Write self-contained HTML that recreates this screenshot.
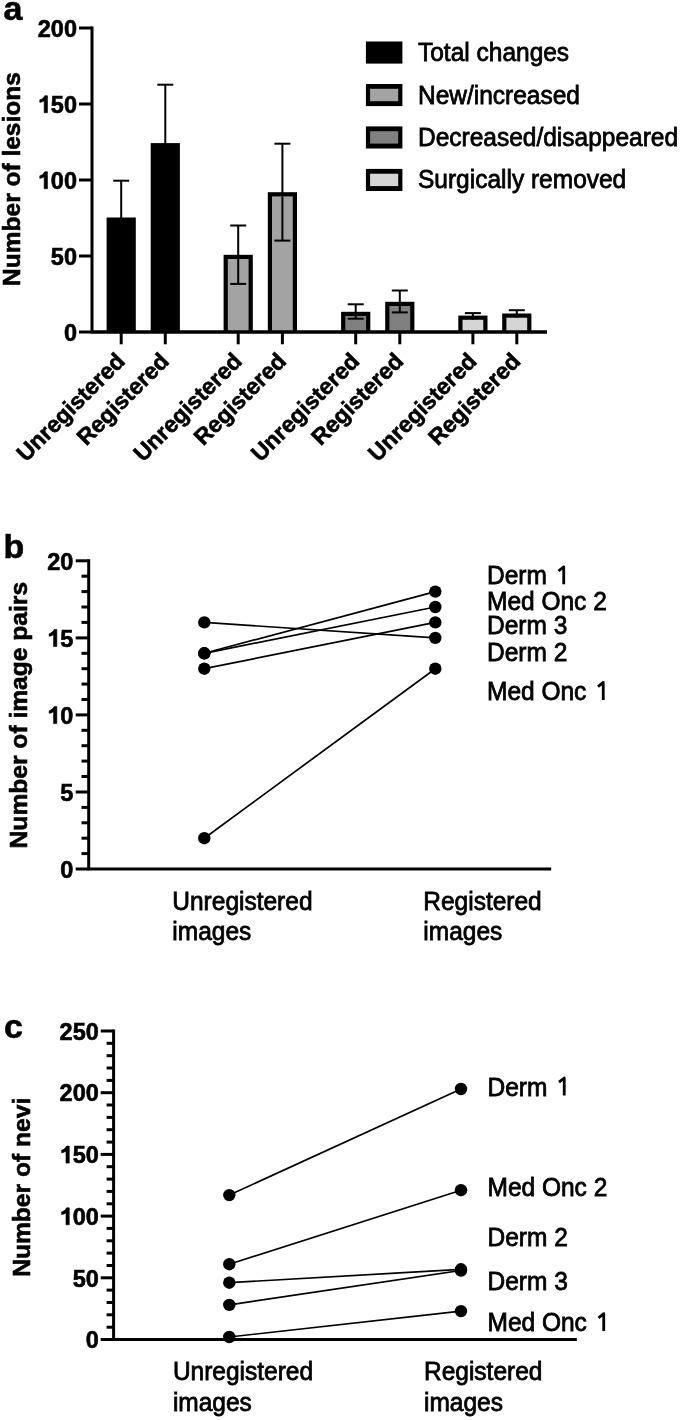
<!DOCTYPE html><html><head><meta charset="utf-8"><style>html,body{margin:0;padding:0;background:#fff;}svg{display:block}svg{will-change:transform}text{font-family:"Liberation Sans", sans-serif;fill:#000;stroke:#000;stroke-width:0.75px}.b{font-weight:bold;stroke-width:0.6px}</style></head><body>
<svg width="680" height="1420" viewBox="0 0 680 1420">
<text class="b" x="3.5" y="20" font-size="34">a</text>
<path d="M92.0,26.5 V332.0 H547" fill="none" stroke="#000" stroke-width="3"/>
<line x1="79" y1="332.0" x2="92.0" y2="332.0" stroke="#000" stroke-width="3"/>
<text class="b" x="77" y="340.7" font-size="23.5" text-anchor="end">0</text>
<line x1="79" y1="256.0" x2="92.0" y2="256.0" stroke="#000" stroke-width="3"/>
<text class="b" x="77" y="264.7" font-size="23.5" text-anchor="end">50</text>
<line x1="79" y1="180.0" x2="92.0" y2="180.0" stroke="#000" stroke-width="3"/>
<path d="M47.47,188.70 L47.47,171.71 L44.79,171.71 C43.95,173.66 42.02,175.07 39.79,175.82 L39.79,178.41 C41.32,178.24 42.96,177.66 44.18,176.83 L44.18,188.70 Z" fill="#000" stroke="#000" stroke-width="0.6"/><text class="b" x="77" y="188.7" font-size="23.5" text-anchor="end">00</text>
<line x1="79" y1="104.0" x2="92.0" y2="104.0" stroke="#000" stroke-width="3"/>
<path d="M47.47,112.70 L47.47,95.71 L44.79,95.71 C43.95,97.66 42.02,99.07 39.79,99.82 L39.79,102.41 C41.32,102.24 42.96,101.66 44.18,100.83 L44.18,112.70 Z" fill="#000" stroke="#000" stroke-width="0.6"/><text class="b" x="77" y="112.7" font-size="23.5" text-anchor="end">50</text>
<line x1="79" y1="28.0" x2="92.0" y2="28.0" stroke="#000" stroke-width="3"/>
<text class="b" x="77" y="36.7" font-size="23.5" text-anchor="end">200</text>
<text class="b" font-size="24.5" transform="translate(19.8,285.9) rotate(-90)">Number of lesions</text>
<line x1="121.2" y1="180.7" x2="121.2" y2="220.5" stroke="#000" stroke-width="2"/>
<line x1="113.2" y1="180.7" x2="129.2" y2="180.7" stroke="#000" stroke-width="2"/>
<rect x="106.60000000000001" y="217.5" width="29.2" height="114.5" fill="#000"/>
<line x1="121.2" y1="332.0" x2="121.2" y2="344.3" stroke="#000" stroke-width="3"/>
<text class="b" font-size="23" text-anchor="end" transform="translate(126.2,362.5) rotate(-45)">Unregistered</text>
<line x1="165.3" y1="84.7" x2="165.3" y2="146.1" stroke="#000" stroke-width="2"/>
<line x1="157.3" y1="84.7" x2="173.3" y2="84.7" stroke="#000" stroke-width="2"/>
<rect x="150.70000000000002" y="143.1" width="29.2" height="188.9" fill="#000"/>
<line x1="165.3" y1="332.0" x2="165.3" y2="344.3" stroke="#000" stroke-width="3"/>
<text class="b" font-size="23" text-anchor="end" transform="translate(170.3,362.5) rotate(-45)">Registered</text>
<line x1="238.2" y1="225.5" x2="238.2" y2="283.9" stroke="#000" stroke-width="2"/>
<line x1="230.2" y1="225.5" x2="246.2" y2="225.5" stroke="#000" stroke-width="2"/>
<rect x="223.6" y="254.8" width="29.2" height="77.19999999999999" fill="#000"/>
<rect x="227.79999999999998" y="259.0" width="20.799999999999997" height="71.49999999999999" fill="#a3a3a3"/>
<line x1="238.2" y1="259.0" x2="238.2" y2="283.9" stroke="#000" stroke-width="2"/>
<line x1="230.2" y1="283.9" x2="246.2" y2="283.9" stroke="#000" stroke-width="2"/>
<line x1="238.2" y1="332.0" x2="238.2" y2="344.3" stroke="#000" stroke-width="3"/>
<text class="b" font-size="23" text-anchor="end" transform="translate(243.2,362.5) rotate(-45)">Unregistered</text>
<line x1="282.4" y1="143.7" x2="282.4" y2="240.6" stroke="#000" stroke-width="2"/>
<line x1="274.4" y1="143.7" x2="290.4" y2="143.7" stroke="#000" stroke-width="2"/>
<rect x="267.79999999999995" y="192.2" width="29.2" height="139.8" fill="#000"/>
<rect x="271.99999999999994" y="196.39999999999998" width="20.799999999999997" height="134.10000000000002" fill="#a3a3a3"/>
<line x1="282.4" y1="196.39999999999998" x2="282.4" y2="240.6" stroke="#000" stroke-width="2"/>
<line x1="274.4" y1="240.6" x2="290.4" y2="240.6" stroke="#000" stroke-width="2"/>
<line x1="282.4" y1="332.0" x2="282.4" y2="344.3" stroke="#000" stroke-width="3"/>
<text class="b" font-size="23" text-anchor="end" transform="translate(287.4,362.5) rotate(-45)">Registered</text>
<line x1="355.7" y1="304.3" x2="355.7" y2="318.7" stroke="#000" stroke-width="2"/>
<line x1="347.7" y1="304.3" x2="363.7" y2="304.3" stroke="#000" stroke-width="2"/>
<rect x="341.09999999999997" y="311.8" width="29.2" height="20.19999999999999" fill="#000"/>
<rect x="345.29999999999995" y="316.0" width="20.799999999999997" height="14.49999999999999" fill="#808080"/>
<line x1="355.7" y1="316.0" x2="355.7" y2="318.7" stroke="#000" stroke-width="2"/>
<line x1="347.7" y1="318.7" x2="363.7" y2="318.7" stroke="#000" stroke-width="2"/>
<line x1="355.7" y1="332.0" x2="355.7" y2="344.3" stroke="#000" stroke-width="3"/>
<text class="b" font-size="23" text-anchor="end" transform="translate(360.7,362.5) rotate(-45)">Unregistered</text>
<line x1="399.8" y1="290.5" x2="399.8" y2="312.4" stroke="#000" stroke-width="2"/>
<line x1="391.8" y1="290.5" x2="407.8" y2="290.5" stroke="#000" stroke-width="2"/>
<rect x="385.2" y="301.8" width="29.2" height="30.19999999999999" fill="#000"/>
<rect x="389.4" y="306.0" width="20.799999999999997" height="24.49999999999999" fill="#808080"/>
<line x1="399.8" y1="306.0" x2="399.8" y2="312.4" stroke="#000" stroke-width="2"/>
<line x1="391.8" y1="312.4" x2="407.8" y2="312.4" stroke="#000" stroke-width="2"/>
<line x1="399.8" y1="332.0" x2="399.8" y2="344.3" stroke="#000" stroke-width="3"/>
<text class="b" font-size="23" text-anchor="end" transform="translate(404.8,362.5) rotate(-45)">Registered</text>
<line x1="472.9" y1="313.1" x2="472.9" y2="318.6" stroke="#000" stroke-width="2"/>
<line x1="464.9" y1="313.1" x2="480.9" y2="313.1" stroke="#000" stroke-width="2"/>
<rect x="458.29999999999995" y="315.6" width="29.2" height="16.399999999999977" fill="#000"/>
<rect x="462.49999999999994" y="319.8" width="20.799999999999997" height="10.699999999999978" fill="#d5d5d5"/>
<line x1="472.9" y1="319.8" x2="472.9" y2="318.6" stroke="#000" stroke-width="2"/>
<line x1="472.9" y1="332.0" x2="472.9" y2="344.3" stroke="#000" stroke-width="3"/>
<text class="b" font-size="23" text-anchor="end" transform="translate(477.9,362.5) rotate(-45)">Unregistered</text>
<line x1="516.8" y1="310.2" x2="516.8" y2="316.5" stroke="#000" stroke-width="2"/>
<line x1="508.79999999999995" y1="310.2" x2="524.8" y2="310.2" stroke="#000" stroke-width="2"/>
<rect x="502.19999999999993" y="313.5" width="29.2" height="18.5" fill="#000"/>
<rect x="506.3999999999999" y="317.7" width="20.799999999999997" height="12.8" fill="#d5d5d5"/>
<line x1="516.8" y1="317.7" x2="516.8" y2="316.5" stroke="#000" stroke-width="2"/>
<line x1="516.8" y1="332.0" x2="516.8" y2="344.3" stroke="#000" stroke-width="3"/>
<text class="b" font-size="23" text-anchor="end" transform="translate(521.8,362.5) rotate(-45)">Registered</text>
<line x1="92.0" y1="332.0" x2="547" y2="332.0" stroke="#000" stroke-width="3"/>
<rect x="365.9" y="41.5" width="36.5" height="22.1" fill="#000"/>
<text transform="translate(418,61.3) scale(1,1.06)" font-size="24.5">Total changes</text>
<rect x="365.9" y="84.0" width="36.5" height="22.1" fill="#000"/>
<rect x="370.09999999999997" y="88.8" width="28.1" height="12.4" fill="#a3a3a3"/>
<text transform="translate(418,103.6) scale(1,1.06)" font-size="24.5">New/increased</text>
<rect x="365.9" y="126.4" width="36.5" height="22.1" fill="#000"/>
<rect x="370.09999999999997" y="131.2" width="28.1" height="12.4" fill="#808080"/>
<text transform="translate(418,146.0) scale(1,1.06)" font-size="24.5">Decreased/disappeared</text>
<rect x="365.9" y="168.9" width="36.5" height="22.1" fill="#000"/>
<rect x="370.09999999999997" y="173.7" width="28.1" height="12.4" fill="#d5d5d5"/>
<text transform="translate(418,188.3) scale(1,1.06)" font-size="24.5">Surgically removed</text>
<text class="b" x="3.5" y="558" font-size="34">b</text>
<path d="M88.7,559.3 V869.0 H551.2" fill="none" stroke="#000" stroke-width="3"/>
<line x1="75.7" y1="869.0" x2="88.7" y2="869.0" stroke="#000" stroke-width="3"/>
<text class="b" x="73.3" y="877.7" font-size="23.5" text-anchor="end">0</text>
<line x1="81.5" y1="853.6" x2="88.7" y2="853.6" stroke="#000" stroke-width="3"/>
<line x1="81.5" y1="838.2" x2="88.7" y2="838.2" stroke="#000" stroke-width="3"/>
<line x1="81.5" y1="822.8" x2="88.7" y2="822.8" stroke="#000" stroke-width="3"/>
<line x1="81.5" y1="807.4" x2="88.7" y2="807.4" stroke="#000" stroke-width="3"/>
<line x1="75.7" y1="792.0" x2="88.7" y2="792.0" stroke="#000" stroke-width="3"/>
<text class="b" x="73.3" y="800.7" font-size="23.5" text-anchor="end">5</text>
<line x1="81.5" y1="776.5" x2="88.7" y2="776.5" stroke="#000" stroke-width="3"/>
<line x1="81.5" y1="761.1" x2="88.7" y2="761.1" stroke="#000" stroke-width="3"/>
<line x1="81.5" y1="745.7" x2="88.7" y2="745.7" stroke="#000" stroke-width="3"/>
<line x1="81.5" y1="730.3" x2="88.7" y2="730.3" stroke="#000" stroke-width="3"/>
<line x1="75.7" y1="714.9" x2="88.7" y2="714.9" stroke="#000" stroke-width="3"/>
<path d="M56.84,723.60 L56.84,706.61 L54.16,706.61 C53.32,708.56 51.39,709.97 49.16,710.72 L49.16,713.31 C50.69,713.14 52.33,712.56 53.55,711.73 L53.55,723.60 Z" fill="#000" stroke="#000" stroke-width="0.6"/><text class="b" x="73.3" y="723.6" font-size="23.5" text-anchor="end">0</text>
<line x1="81.5" y1="699.5" x2="88.7" y2="699.5" stroke="#000" stroke-width="3"/>
<line x1="81.5" y1="684.1" x2="88.7" y2="684.1" stroke="#000" stroke-width="3"/>
<line x1="81.5" y1="668.7" x2="88.7" y2="668.7" stroke="#000" stroke-width="3"/>
<line x1="81.5" y1="653.3" x2="88.7" y2="653.3" stroke="#000" stroke-width="3"/>
<line x1="75.7" y1="637.9" x2="88.7" y2="637.9" stroke="#000" stroke-width="3"/>
<path d="M56.84,646.55 L56.84,629.56 L54.16,629.56 C53.32,631.51 51.39,632.92 49.16,633.67 L49.16,636.26 C50.69,636.09 52.33,635.51 53.55,634.68 L53.55,646.55 Z" fill="#000" stroke="#000" stroke-width="0.6"/><text class="b" x="73.3" y="646.6" font-size="23.5" text-anchor="end">5</text>
<line x1="81.5" y1="622.4" x2="88.7" y2="622.4" stroke="#000" stroke-width="3"/>
<line x1="81.5" y1="607.0" x2="88.7" y2="607.0" stroke="#000" stroke-width="3"/>
<line x1="81.5" y1="591.6" x2="88.7" y2="591.6" stroke="#000" stroke-width="3"/>
<line x1="81.5" y1="576.2" x2="88.7" y2="576.2" stroke="#000" stroke-width="3"/>
<line x1="75.7" y1="560.8" x2="88.7" y2="560.8" stroke="#000" stroke-width="3"/>
<text class="b" x="73.3" y="569.5" font-size="23.5" text-anchor="end">20</text>
<text class="b" font-size="24.6" transform="translate(26.5,848.4) rotate(-90)">Number of image pairs</text>
<line x1="204.3" y1="622.4" x2="435.3" y2="637.9" stroke="#000" stroke-width="1.7"/>
<line x1="204.3" y1="653.3" x2="435.3" y2="591.6" stroke="#000" stroke-width="1.7"/>
<line x1="204.3" y1="653.3" x2="435.3" y2="607.0" stroke="#000" stroke-width="1.7"/>
<line x1="204.3" y1="668.7" x2="435.3" y2="622.4" stroke="#000" stroke-width="1.7"/>
<line x1="204.3" y1="838.2" x2="435.3" y2="668.7" stroke="#000" stroke-width="1.7"/>
<circle cx="204.3" cy="622.4" r="6.2"/>
<circle cx="435.3" cy="637.9" r="6.2"/>
<circle cx="204.3" cy="653.3" r="6.2"/>
<circle cx="435.3" cy="591.6" r="6.2"/>
<circle cx="204.3" cy="653.3" r="6.2"/>
<circle cx="435.3" cy="607.0" r="6.2"/>
<circle cx="204.3" cy="668.7" r="6.2"/>
<circle cx="435.3" cy="622.4" r="6.2"/>
<circle cx="204.3" cy="838.2" r="6.2"/>
<circle cx="435.3" cy="668.7" r="6.2"/>
<text transform="translate(487,584.3) scale(1,1.06)" font-size="24.5">Derm </text><path d="M563.74,584.30 V566.80 L558.50,571.00" fill="none" stroke="#000" stroke-width="2.8" stroke-linejoin="round"/>
<text transform="translate(487,610) scale(1,1.06)" font-size="24.5">Med Onc 2</text>
<text transform="translate(487,633.7) scale(1,1.06)" font-size="24.5">Derm 3</text>
<text transform="translate(487,661.3) scale(1,1.06)" font-size="24.5">Derm 2</text>
<text transform="translate(487,699.9) scale(1,1.06)" font-size="24.5">Med Onc </text><path d="M603.25,699.90 V682.40 L598.01,686.60" fill="none" stroke="#000" stroke-width="2.8" stroke-linejoin="round"/>
<text transform="translate(172.3,909.5) scale(1,1.06)" font-size="24.5">Unregistered</text>
<text transform="translate(172.3,939.5) scale(1,1.06)" font-size="24.5">images</text>
<text transform="translate(423.3,909.5) scale(1,1.06)" font-size="24.5">Registered</text>
<text transform="translate(423.3,939.5) scale(1,1.06)" font-size="24.5">images</text>
<text class="b" x="4" y="1037.6" font-size="34">c</text>
<path d="M113.6,1029.5 V1339.5 H576.8" fill="none" stroke="#000" stroke-width="3"/>
<line x1="100.7" y1="1339.5" x2="113.6" y2="1339.5" stroke="#000" stroke-width="3"/>
<text class="b" x="98.8" y="1348.2" font-size="23.5" text-anchor="end">0</text>
<line x1="106.6" y1="1327.2" x2="113.6" y2="1327.2" stroke="#000" stroke-width="3"/>
<line x1="106.6" y1="1314.8" x2="113.6" y2="1314.8" stroke="#000" stroke-width="3"/>
<line x1="106.6" y1="1302.5" x2="113.6" y2="1302.5" stroke="#000" stroke-width="3"/>
<line x1="106.6" y1="1290.1" x2="113.6" y2="1290.1" stroke="#000" stroke-width="3"/>
<line x1="100.7" y1="1277.8" x2="113.6" y2="1277.8" stroke="#000" stroke-width="3"/>
<text class="b" x="98.8" y="1286.5" font-size="23.5" text-anchor="end">50</text>
<line x1="106.6" y1="1265.5" x2="113.6" y2="1265.5" stroke="#000" stroke-width="3"/>
<line x1="106.6" y1="1253.1" x2="113.6" y2="1253.1" stroke="#000" stroke-width="3"/>
<line x1="106.6" y1="1240.8" x2="113.6" y2="1240.8" stroke="#000" stroke-width="3"/>
<line x1="106.6" y1="1228.4" x2="113.6" y2="1228.4" stroke="#000" stroke-width="3"/>
<line x1="100.7" y1="1216.1" x2="113.6" y2="1216.1" stroke="#000" stroke-width="3"/>
<path d="M69.27,1224.80 L69.27,1207.81 L66.59,1207.81 C65.75,1209.76 63.82,1211.17 61.59,1211.92 L61.59,1214.51 C63.12,1214.34 64.76,1213.75 65.98,1212.93 L65.98,1224.80 Z" fill="#000" stroke="#000" stroke-width="0.6"/><text class="b" x="98.8" y="1224.8" font-size="23.5" text-anchor="end">00</text>
<line x1="106.6" y1="1203.8" x2="113.6" y2="1203.8" stroke="#000" stroke-width="3"/>
<line x1="106.6" y1="1191.4" x2="113.6" y2="1191.4" stroke="#000" stroke-width="3"/>
<line x1="106.6" y1="1179.1" x2="113.6" y2="1179.1" stroke="#000" stroke-width="3"/>
<line x1="106.6" y1="1166.7" x2="113.6" y2="1166.7" stroke="#000" stroke-width="3"/>
<line x1="100.7" y1="1154.4" x2="113.6" y2="1154.4" stroke="#000" stroke-width="3"/>
<path d="M69.27,1163.10 L69.27,1146.11 L66.59,1146.11 C65.75,1148.06 63.82,1149.47 61.59,1150.22 L61.59,1152.81 C63.12,1152.64 64.76,1152.06 65.98,1151.23 L65.98,1163.10 Z" fill="#000" stroke="#000" stroke-width="0.6"/><text class="b" x="98.8" y="1163.1" font-size="23.5" text-anchor="end">50</text>
<line x1="106.6" y1="1142.1" x2="113.6" y2="1142.1" stroke="#000" stroke-width="3"/>
<line x1="106.6" y1="1129.7" x2="113.6" y2="1129.7" stroke="#000" stroke-width="3"/>
<line x1="106.6" y1="1117.4" x2="113.6" y2="1117.4" stroke="#000" stroke-width="3"/>
<line x1="106.6" y1="1105.0" x2="113.6" y2="1105.0" stroke="#000" stroke-width="3"/>
<line x1="100.7" y1="1092.7" x2="113.6" y2="1092.7" stroke="#000" stroke-width="3"/>
<text class="b" x="98.8" y="1101.4" font-size="23.5" text-anchor="end">200</text>
<line x1="106.6" y1="1080.4" x2="113.6" y2="1080.4" stroke="#000" stroke-width="3"/>
<line x1="106.6" y1="1068.0" x2="113.6" y2="1068.0" stroke="#000" stroke-width="3"/>
<line x1="106.6" y1="1055.7" x2="113.6" y2="1055.7" stroke="#000" stroke-width="3"/>
<line x1="106.6" y1="1043.3" x2="113.6" y2="1043.3" stroke="#000" stroke-width="3"/>
<line x1="100.7" y1="1031.0" x2="113.6" y2="1031.0" stroke="#000" stroke-width="3"/>
<text class="b" x="98.8" y="1039.7" font-size="23.5" text-anchor="end">250</text>
<text class="b" font-size="24.6" transform="translate(29.7,1276.8) rotate(-90)">Number of nevi</text>
<line x1="229.3" y1="1195.1" x2="461" y2="1089.0" stroke="#000" stroke-width="1.7"/>
<line x1="229.3" y1="1264.2" x2="461" y2="1190.2" stroke="#000" stroke-width="1.7"/>
<line x1="229.3" y1="1282.7" x2="461" y2="1269.3" stroke="#000" stroke-width="1.7"/>
<line x1="229.3" y1="1304.9" x2="461" y2="1270.5" stroke="#000" stroke-width="1.7"/>
<line x1="229.3" y1="1337.0" x2="461" y2="1311.1" stroke="#000" stroke-width="1.7"/>
<circle cx="229.3" cy="1195.1" r="6.2"/>
<circle cx="461" cy="1089.0" r="6.2"/>
<circle cx="229.3" cy="1264.2" r="6.2"/>
<circle cx="461" cy="1190.2" r="6.2"/>
<circle cx="229.3" cy="1282.7" r="6.2"/>
<circle cx="461" cy="1269.3" r="6.2"/>
<circle cx="229.3" cy="1304.9" r="6.2"/>
<circle cx="461" cy="1270.5" r="6.2"/>
<circle cx="229.3" cy="1337.0" r="6.2"/>
<circle cx="461" cy="1311.1" r="6.2"/>
<text transform="translate(487.5,1095.5) scale(1,1.06)" font-size="24.5">Derm </text><path d="M564.24,1095.50 V1078.00 L559.00,1082.20" fill="none" stroke="#000" stroke-width="2.8" stroke-linejoin="round"/>
<text transform="translate(487.5,1195.6) scale(1,1.06)" font-size="24.5">Med Onc 2</text>
<text transform="translate(487.5,1246) scale(1,1.06)" font-size="24.5">Derm 2</text>
<text transform="translate(487.5,1290.3) scale(1,1.06)" font-size="24.5">Derm 3</text>
<text transform="translate(487.5,1331.1) scale(1,1.06)" font-size="24.5">Med Onc </text><path d="M603.75,1331.10 V1313.60 L598.51,1317.80" fill="none" stroke="#000" stroke-width="2.8" stroke-linejoin="round"/>
<text transform="translate(172.9,1380) scale(1,1.06)" font-size="24.5">Unregistered</text>
<text transform="translate(172.9,1410.75) scale(1,1.06)" font-size="24.5">images</text>
<text transform="translate(424,1380) scale(1,1.06)" font-size="24.5">Registered</text>
<text transform="translate(424,1410.75) scale(1,1.06)" font-size="24.5">images</text>
</svg></body></html>
